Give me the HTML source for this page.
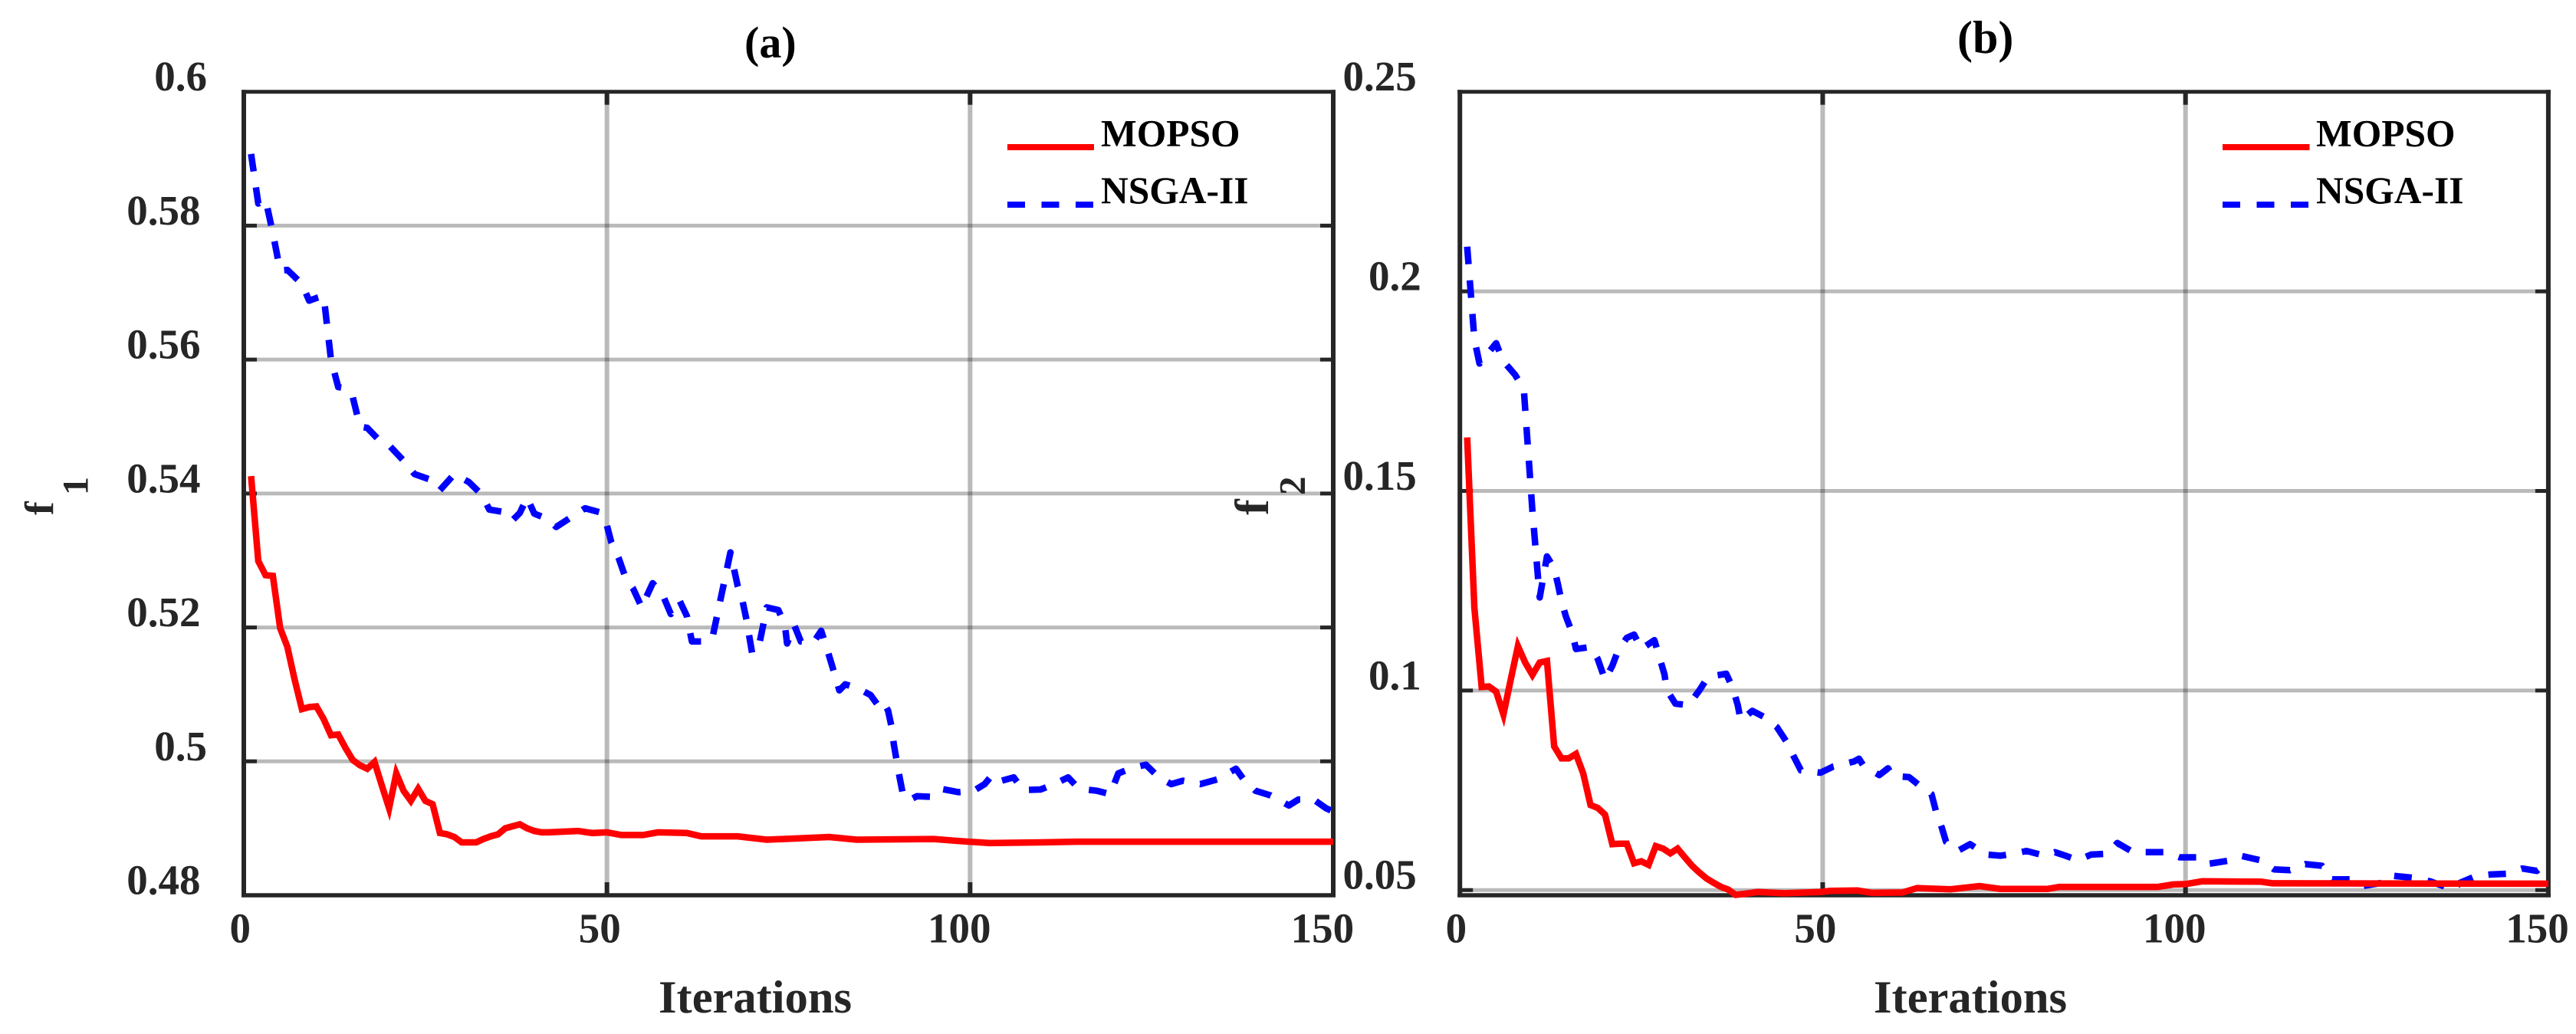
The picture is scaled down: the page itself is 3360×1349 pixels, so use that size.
<!DOCTYPE html>
<html lang="en">
<head>
<meta charset="utf-8">
<title>MOPSO vs NSGA-II convergence</title>
<style>
html,body{margin:0;padding:0;background:#fff;}
svg{display:block;font-family:"Liberation Serif",serif;font-weight:bold;}
</style>
</head>
<body>
<svg id="chart" xmlns="http://www.w3.org/2000/svg" width="3360" height="1349" viewBox="0 0 3360 1349">
  <rect x="0" y="0" width="3360" height="1349" fill="#fff"/>
  <g id="panel-a"></g>
  <g id="panel-b"></g>

  <text x="971" y="75" font-size="58" fill="#000">(a)</text>
  <text x="2553" y="69" font-size="60" fill="#000">(b)</text>

  <text x="859" y="1321" font-size="60.5" fill="#262626">Iterations</text>
  <text x="2444" y="1321" font-size="60.5" fill="#262626">Iterations</text>

  <g fill="#262626">
    <text transform="translate(69,672) rotate(-90)" font-size="53">f</text>
    <text transform="translate(114.5,646) rotate(-90)" font-size="48">1</text>
  </g>
  <g fill="#262626">
    <text transform="translate(1654,672) rotate(-90)" font-size="62">f</text>
    <text transform="translate(1702,646) rotate(-90)" font-size="49">2</text>
  </g>

  <g>
    <line x1="1314" y1="192" x2="1427" y2="192" stroke="#f00" stroke-width="8"/>
    <text x="1436" y="190.7" font-size="49.5" fill="#000">MOPSO</text>
    <line x1="1314" y1="267" x2="1427" y2="267" stroke="#00f" stroke-width="8" stroke-dasharray="23 21.5"/>
    <text x="1436" y="265" font-size="49.5" fill="#000">NSGA-II</text>
  </g>
  <g>
    <line x1="2899" y1="192" x2="3012.5" y2="192" stroke="#f00" stroke-width="8"/>
    <text x="3021" y="190.7" font-size="49.5" fill="#000">MOPSO</text>
    <line x1="2899" y1="267" x2="3012.5" y2="267" stroke="#00f" stroke-width="8" stroke-dasharray="23 21.5"/>
    <text x="3021" y="265" font-size="49.5" fill="#000">NSGA-II</text>
  </g>
</svg>
<script>
// Shared x axis
const xTickValues = [0, 50, 100, 150];
const xTickLabels = ['0', '50', '100', '150'];

// Panel (a) ticks
const yTicksA = [0.48, 0.5, 0.52, 0.54, 0.56, 0.58, 0.6];
const yLabelsA = ['0.48', '0.5', '0.52', '0.54', '0.56', '0.58', '0.6'];

// Panel (a) MOPSO: values read at the visible vertices
const mopsoItersA = [1,2,3,4,5,6,7,8,9,10,11,12,13,14,15,16,17,18,19,20,21,22,23,24,25,26,27,28,29,30,31,32,33,34,35,36,37,38,39,40,41,42,46,48,50,52,55,57,61,63,68,72,78.5,80.6,84.4,95,98.4,102.7,109.7,115,150];
const mopsoValuesA = [0.5426,0.5299,0.5278,0.5277,0.5199,0.5171,0.5122,0.5078,0.5081,0.5082,0.5063,0.5039,0.5040,0.5020,0.5002,0.4994,0.4989,0.4999,0.4964,0.4930,0.4982,0.4956,0.4941,0.4959,0.4941,0.4936,0.4893,0.4891,0.4887,0.4879,0.4879,0.4879,0.4884,0.4888,0.4891,0.4900,0.4903,0.4906,0.4900,0.4896,0.4894,0.4894,0.4896,0.4893,0.4894,0.4890,0.4890,0.4894,0.4893,0.4888,0.4888,0.4883,0.4886,0.4887,0.4883,0.4884,0.4881,0.4878,0.4879,0.4880,0.4880];

// Panel (a) NSGA-II
const nsgaItersA = [1,2,3,4,5,6,8,9,10,11,12,13,14,15,16,17,18.6,20,22,23.5,25.6,27,29,31,32.8,33.8,36,37,38,39,40,42,43,44,47,49,50,50.6,51.6,52.6,53.6,54.8,55.4,56.3,57.7,58.8,60,61,61.7,63,64.5,67,68,68.7,69.2,70,71,72,73.6,74.5,74.8,75.8,76.7,78.4,79.5,80.3,81,81.7,82,82.8,84.6,86.3,87.3,88,88.7,89.2,89.5,90,90.3,90.8,91.6,92.7,94.6,96,98.4,100.5,102,103,104,106,107.3,109.7,111.6,113.5,115,117.5,119.3,120.4,122.3,124.2,126,127.7,129.3,131.7,134,136.6,137.6,139.3,141.4,143.9,145.2,147.3,149,150];
const nsgaValuesA = [0.5907,0.5833,0.5839,0.5789,0.5733,0.5734,0.5713,0.5688,0.5692,0.5695,0.5600,0.5559,0.5557,0.5544,0.5500,0.5498,0.5480,0.5472,0.5449,0.5429,0.5421,0.5405,0.5429,0.5417,0.5398,0.5376,0.5372,0.5360,0.5371,0.5394,0.5370,0.5361,0.5350,0.5357,0.5378,0.5372,0.5352,0.5327,0.5304,0.5273,0.5258,0.5230,0.5245,0.5266,0.5248,0.5220,0.5240,0.5217,0.5179,0.5179,0.5183,0.5312,0.5262,0.5238,0.5212,0.5161,0.5176,0.5230,0.5226,0.5203,0.5176,0.5203,0.5179,0.5177,0.5195,0.5168,0.5143,0.5117,0.5106,0.5115,0.5109,0.5099,0.5084,0.5090,0.5076,0.5051,0.5025,0.4994,0.4976,0.4948,0.4942,0.4948,0.4947,0.4959,0.4954,0.4956,0.4966,0.4979,0.4970,0.4976,0.4957,0.4958,0.4966,0.4976,0.4959,0.4956,0.4951,0.4982,0.4990,0.4995,0.4976,0.4966,0.4971,0.4966,0.4973,0.4989,0.4974,0.4956,0.4949,0.4934,0.4943,0.4943,0.4930,0.4925];

// Panel (b) ticks
const yTicksB = [0.05, 0.1, 0.15, 0.2, 0.25];
const yLabelsB = ['0.05', '0.1', '0.15', '0.2', '0.25'];

// Panel (b) MOPSO
const mopsoItersB = [1,2,3,4,5,6,7,8,9,10,11,12,13,14,15,16,17,18,19,20,21,22,23,24,25,26,27,28,29,30,31,32,33,34,35,36,37,38,39,41,44.7,49.7,51,54.8,56.8,61,63,67.6,71.6,74.5,81,82.6,96.2,98.3,100,102.3,110.4,112,150];
const mopsoValuesB = [0.1634,0.1207,0.1009,0.1010,0.0997,0.0940,0.1027,0.1111,0.1070,0.1039,0.1070,0.1074,0.0860,0.0830,0.0830,0.0841,0.0792,0.0713,0.0706,0.0689,0.0615,0.0616,0.0616,0.0567,0.0572,0.0563,0.0610,0.0604,0.0592,0.0604,0.0582,0.0561,0.0544,0.0529,0.0518,0.0508,0.0501,0.0488,0.0490,0.0495,0.0492,0.0495,0.0498,0.0499,0.0493,0.0494,0.0505,0.0502,0.0510,0.0503,0.0503,0.0508,0.0508,0.0514,0.0515,0.0522,0.0521,0.0517,0.0516];

// Panel (b) NSGA-II
const nsgaItersB = [1,2,2.7,5,5.9,7.6,8.8,10,11,12,13,13.5,14,14.6,15.5,16,18,19,20,21,21.8,23,24,25,26.8,27.5,28.2,28.5,29.7,31.5,33,34.2,36.7,37.6,38.3,38.7,40.3,42,43.7,45,46,47,49.7,51.4,54.3,55,55.7,57.8,59,59.6,61.9,63.2,65,65.6,66.4,67,68.6,70.3,72.5,74.5,76.3,78.1,80.6,82,83,85.2,87,89.3,90.6,92.8,94.8,97.2,99.2,101.8,102.9,106.1,107.6,110.5,112.2,114.4,116.5,118.8,120.2,122.9,124.4,127,128.1,129,131.3,133.7,135.9,136.8,137.8,140,142,144.3,146.4,148.4,150];
const nsgaValuesB = [0.2112,0.1880,0.1819,0.1870,0.1827,0.1791,0.1756,0.1450,0.1233,0.1336,0.1306,0.1267,0.1224,0.1186,0.1143,0.1104,0.1109,0.1079,0.1027,0.1062,0.1100,0.1132,0.1140,0.1104,0.1126,0.1083,0.1040,0.1002,0.0967,0.0963,0.1000,0.1034,0.1042,0.1006,0.0963,0.0925,0.0949,0.0933,0.0908,0.0872,0.0835,0.0800,0.0794,0.0809,0.0822,0.0829,0.0809,0.0788,0.0805,0.0786,0.0783,0.0764,0.0740,0.0698,0.0657,0.0621,0.0598,0.0615,0.0589,0.0586,0.0591,0.0598,0.0586,0.0595,0.0589,0.0575,0.0589,0.0591,0.0618,0.0595,0.0595,0.0595,0.0582,0.0582,0.0565,0.0574,0.0586,0.0574,0.0552,0.0550,0.0565,0.0561,0.0527,0.0527,0.0510,0.0518,0.0537,0.0535,0.0531,0.0522,0.0508,0.0499,0.0518,0.0535,0.0539,0.0541,0.0554,0.0548,0.0572];

const SVG_NS = 'http://www.w3.org/2000/svg';

function make(parent, tag, attrs) {
  const el = document.createElementNS(SVG_NS, tag);
  for (const k in attrs) el.setAttribute(k, attrs[k]);
  parent.appendChild(el);
  return el;
}

function drawPanel(root, cfg) {
  const xScale = v => cfg.left + (v - cfg.xMin) / (cfg.xMax - cfg.xMin) * (cfg.right - cfg.left);
  const yScale = v => cfg.bottom - (v - cfg.yMin) / (cfg.yMax - cfg.yMin) * (cfg.bottom - cfg.top);
  const axisColor = '#262626';
  const gridColor = 'rgba(0,0,0,0.27)';
  const tickLen = 17;
  const wV = 6;
  const wH = 5;

  // Grid
  cfg.xTicks.forEach(v => {
    if (v <= cfg.xMin || v >= cfg.xMax) return;
    const g = make(root, 'line', {x1: xScale(v), x2: xScale(v), y1: cfg.top, y2: cfg.bottom, stroke: gridColor, 'stroke-width': wV});
    
    
  });
  cfg.yTicks.forEach(v => {
    if (v <= cfg.yMin || v >= cfg.yMax) return;
    const g = make(root, 'line', {x1: cfg.left, x2: cfg.right, y1: yScale(v), y2: yScale(v), stroke: gridColor, 'stroke-width': wH});
    
    
  });

  // Ticks
  cfg.xTicks.forEach(v => {
    if (v <= cfg.xMin || v >= cfg.xMax) return;
    [[cfg.top, cfg.top + tickLen], [cfg.bottom, cfg.bottom - tickLen]].forEach(p => {
      const t = make(root, 'line', {x1: xScale(v), x2: xScale(v), y1: p[0], y2: p[1], stroke: axisColor, 'stroke-width': wV});
      
      
    });
  });
  cfg.yTicks.forEach(v => {
    if (v <= cfg.yMin || v >= cfg.yMax) return;
    [[cfg.left, cfg.left + tickLen], [cfg.right, cfg.right - tickLen]].forEach(p => {
      const t = make(root, 'line', {x1: p[0], x2: p[1], y1: yScale(v), y2: yScale(v), stroke: axisColor, 'stroke-width': wH});
      
      
    });
  });

  // Frame spines
  const hw = wV / 2;
  const spineBottom = make(root, 'line', {x1: cfg.left - hw, x2: cfg.right + hw, y1: cfg.bottom, y2: cfg.bottom, stroke: axisColor, 'stroke-width': wH + 0.6});
  
  
  const spineTop = make(root, 'line', {x1: cfg.left - hw, x2: cfg.right + hw, y1: cfg.top, y2: cfg.top, stroke: axisColor, 'stroke-width': wH});
  
  
  const spineLeft = make(root, 'line', {x1: cfg.left, x2: cfg.left, y1: cfg.top - wH / 2, y2: cfg.bottom + wH / 2, stroke: axisColor, 'stroke-width': wV});
  
  
  const spineRight = make(root, 'line', {x1: cfg.right, x2: cfg.right, y1: cfg.top - wH / 2, y2: cfg.bottom + wH / 2, stroke: axisColor, 'stroke-width': wV});
  
  

  // Series
  const toPoints = (xs, ys) => xs.map((x, i) => xScale(x).toFixed(1) + ',' + yScale(ys[i]).toFixed(1)).join(' ');
  const nsga = make(root, 'polyline', {points: toPoints(cfg.nsgaX, cfg.nsgaY), fill: 'none', stroke: '#00f', 'stroke-width': 8.5, 'stroke-dasharray': '23 21', 'stroke-linejoin': 'round'});
  
  
  const mopso = make(root, 'polyline', {points: toPoints(cfg.mopsoX, cfg.mopsoY), fill: 'none', stroke: '#f00', 'stroke-width': 8.5, 'stroke-linejoin': 'miter'});
  
  

  // Tick labels
  cfg.xTicks.forEach((v, i) => {
    const label = cfg.xLabels[i];
    const t = make(root, 'text', {x: xScale(v) - cfg.xLabelShift * label.length, y: cfg.xLabelY, 'font-size': 55, 'text-anchor': 'middle', fill: axisColor});
    t.textContent = label;
    
    
  });
  cfg.yTicks.forEach((v, i) => {
    const label = cfg.yLabels[i];
    const gap = label.length > 3 ? cfg.yGapLong : cfg.yGapShort;
    const t = make(root, 'text', {x: cfg.left - gap, y: yScale(v) - 1.5, 'font-size': 55, 'text-anchor': 'end', fill: axisColor});
    t.textContent = label;
    
    
  });
}

drawPanel(document.getElementById('panel-a'), {
  left: 318, right: 1739, top: 119.7, bottom: 1168,
  xMin: 0, xMax: 150, yMin: 0.48, yMax: 0.6,
  xTicks: xTickValues, xLabels: xTickLabels, yTicks: yTicksA, yLabels: yLabelsA,
  mopsoX: mopsoItersA, mopsoY: mopsoValuesA, nsgaX: nsgaItersA, nsgaY: nsgaValuesA,
  xLabelY: 1229.6, xLabelShift: 4.7, yGapLong: 56.5, yGapShort: 48
});
drawPanel(document.getElementById('panel-b'), {
  left: 1904.2, right: 3323.9, top: 119.7, bottom: 1168,
  xMin: 0, xMax: 150, yMin: 0.0487, yMax: 0.25,
  xTicks: xTickValues, xLabels: xTickLabels, yTicks: yTicksB, yLabels: yLabelsB,
  mopsoX: mopsoItersB, mopsoY: mopsoValuesB, nsgaX: nsgaItersB, nsgaY: nsgaValuesB,
  xLabelY: 1229.6, xLabelShift: 4.8, yGapLong: 56.5, yGapShort: 50.5
});
</script>
</body>
</html>
